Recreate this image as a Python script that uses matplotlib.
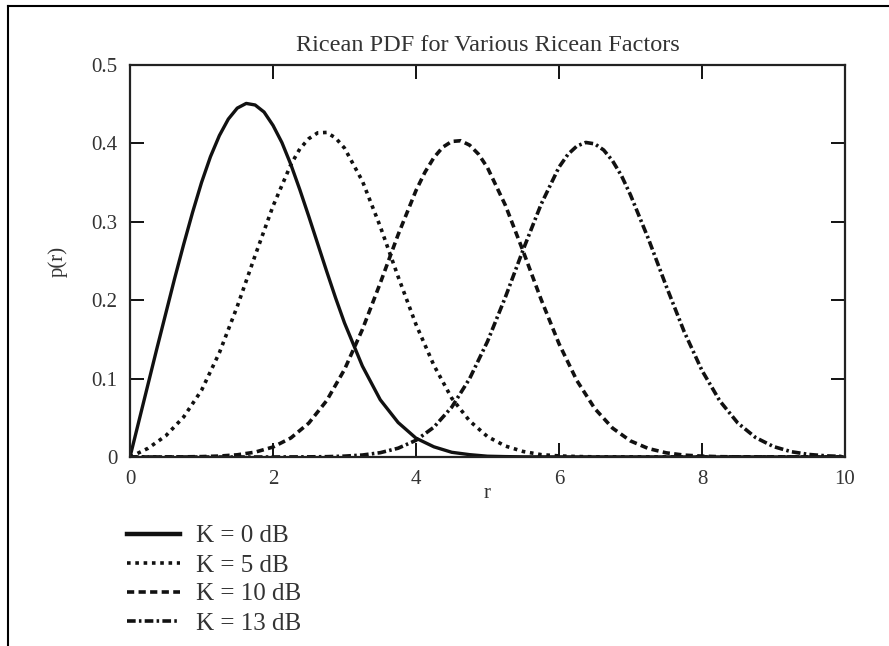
import numpy as np
import matplotlib
matplotlib.use("Agg")
import matplotlib.pyplot as plt
from matplotlib.lines import Line2D

# values; finer steps around the peaks
r_k0 = [0, 0.125, 0.25, 0.375, 0.5, 0.625, 0.75, 0.875, 1.0, 1.125, 1.25, 1.375, 1.5,
        1.625, 1.75, 1.875, 2.0, 2.125, 2.25, 2.375, 2.5, 2.625, 2.75, 2.875, 3.0,
        3.25, 3.5, 3.75, 4.0, 4.25, 4.5, 4.75, 5.0, 5.25, 5.5, 10.0]
p_k0 = [0, 0.046, 0.092, 0.138, 0.183, 0.228, 0.271, 0.312, 0.350, 0.383, 0.410, 0.431,
        0.445, 0.451, 0.449, 0.440, 0.423, 0.401, 0.373, 0.341, 0.307, 0.272, 0.237,
        0.203, 0.171, 0.116, 0.073, 0.044, 0.024, 0.013, 0.006, 0.003, 0.001, 0.0005,
        0.0002, 0]

r_k5 = [0, 0.25, 0.5, 0.75, 1.0, 1.25, 1.5, 1.75, 2.0, 2.25, 2.375, 2.5, 2.625, 2.75,
        2.875, 3.0, 3.25, 3.5, 3.75, 4.0, 4.25, 4.5, 4.75, 5.0, 5.25, 5.5, 5.75, 6.0,
        6.25, 6.5, 6.75, 10.0]
p_k5 = [0, 0.011, 0.027, 0.051, 0.085, 0.133, 0.192, 0.257, 0.320, 0.373, 0.393, 0.406,
        0.4135, 0.414, 0.407, 0.394, 0.352, 0.294, 0.230, 0.169, 0.117, 0.075, 0.046,
        0.026, 0.014, 0.007, 0.003, 0.0014, 0.0006, 0.0002, 0.0001, 0]

r_k10 = [0, 0.25, 0.5, 0.75, 1.0, 1.25, 1.5, 1.75, 2.0, 2.25, 2.5, 2.75, 3.0, 3.25, 3.5,
         3.75, 4.0, 4.125, 4.25, 4.375, 4.5, 4.625, 4.75, 4.875, 5.0, 5.25, 5.5, 5.75,
         6.0, 6.25, 6.5, 6.75, 7.0, 7.25, 7.5, 7.75, 8.0, 8.25, 8.5, 8.75, 10.0]
p_k10 = [0, 0, 0.0001, 0.0002, 0.0005, 0.0012, 0.0028, 0.0062, 0.0127, 0.0243, 0.0432,
         0.0718, 0.1116, 0.1626, 0.2218, 0.2836, 0.3399, 0.3632, 0.3819, 0.3952, 0.4025,
         0.4034, 0.3978, 0.3862, 0.3690, 0.3211, 0.2621, 0.2009, 0.1445, 0.0975, 0.0618,
         0.0368, 0.0205, 0.0108, 0.0053, 0.0024, 0.0011, 0.0004, 0.0002, 0.0001, 0]

r_k13 = [0, 2.0, 2.25, 2.5, 2.75, 3.0, 3.25, 3.5, 3.75, 4.0, 4.25, 4.5, 4.75, 5.0, 5.25,
         5.5, 5.75, 6.0, 6.125, 6.25, 6.375, 6.5, 6.625, 6.75, 6.875, 7.0, 7.25, 7.5,
         7.75, 8.0, 8.25, 8.5, 8.75, 9.0, 9.25, 9.5, 9.75, 10.0]
p_k13 = [0, 0, 0.0001, 0.0002, 0.0004, 0.0011, 0.0025, 0.0055, 0.0112, 0.0213, 0.0380,
         0.0636, 0.1000, 0.1474, 0.2039, 0.2647, 0.3224, 0.3697, 0.3860, 0.3966, 0.4012,
         0.3994, 0.3915, 0.3776, 0.3586, 0.3342, 0.2784, 0.2178, 0.1600, 0.1103, 0.0714,
         0.0434, 0.0248, 0.0133, 0.0067, 0.0032, 0.0014, 0.0006]

labels = ["K = 0 dB", "K = 5 dB", "K = 10 dB", "K = 13 dB"]
xticks = [0, 2, 4, 6, 8, 10]
yticks = [0, 0.1, 0.2, 0.3, 0.4, 0.5]
ytick_labels = ["0", "0.1", "0.2", "0.3", "0.4", "0.5"]

plt.rcParams["font.family"] = ["Liberation Serif", "DejaVu Serif"]
txt = "#333333"
ink = "#111111"

fig = plt.figure(figsize=(8.89, 6.46), dpi=100)
ax = fig.add_axes([130 / 889, 1 - 457 / 646, 715 / 889, 392 / 646])

styles = [
    dict(linestyle="-", linewidth=2.4),
    dict(linestyle=(0, (1, 1.3)), linewidth=2.6),
    dict(linestyle=(0, (2, 1.2)), linewidth=2.6),
    dict(linestyle=(0, (2.4, 0.9, 0.7, 0.9)), linewidth=2.6),
]
curves = [(r_k0, p_k0), (r_k5, p_k5), (r_k10, p_k10), (r_k13, p_k13)]

for (rr, pp), st, lab in zip(curves, styles, labels):
    ax.plot(rr, pp, color=ink, label=lab, **st)

ax.set_xlim(0, 10)
ax.set_ylim(0, 0.5)
ax.set_xticks(xticks)
ax.set_xticklabels([str(t) for t in xticks])
ax.set_yticks(yticks)
ax.set_yticklabels(ytick_labels)
ax.tick_params(direction="in", length=10, width=1.4, top=True, right=True,
               labelsize=15, colors=ink, labelcolor=txt)
ax.tick_params(axis="x", pad=9)
ax.tick_params(axis="y", pad=9)
for sp in ax.spines.values():
    sp.set_linewidth(1.6)
    sp.set_color("#222222")

ax.set_title("Ricean PDF for Various Ricean Factors", fontsize=17.5, color=txt, pad=10)
ax.set_xlabel("r", fontsize=15, color=txt, labelpad=-3)
ax.set_ylabel("p(r)", fontsize=15, color=txt, labelpad=17)

# legend below the plot, outside the axes
leg_handles = [Line2D([0], [0], color=ink, **st) for st in styles]
leg_handles[0].set_linewidth(3.2)
fig.legend(leg_handles, labels, loc="upper left", bbox_to_anchor=(127 / 889, 1 - 525 / 646),
           frameon=False, fontsize=18, handlelength=2.1, handletextpad=0.68,
           labelspacing=0.26, borderpad=0, borderaxespad=0, labelcolor=txt)

# outer frame (only top and left edges show in the original)
fig.add_artist(Line2D([8 / 889, 8 / 889], [0, 1 - 6 / 646], transform=fig.transFigure,
                      color="black", linewidth=1.5))
fig.add_artist(Line2D([8 / 889, 1], [1 - 6 / 646, 1 - 6 / 646], transform=fig.transFigure,
                      color="black", linewidth=1.5))

fig.savefig("out.png", dpi=100)
